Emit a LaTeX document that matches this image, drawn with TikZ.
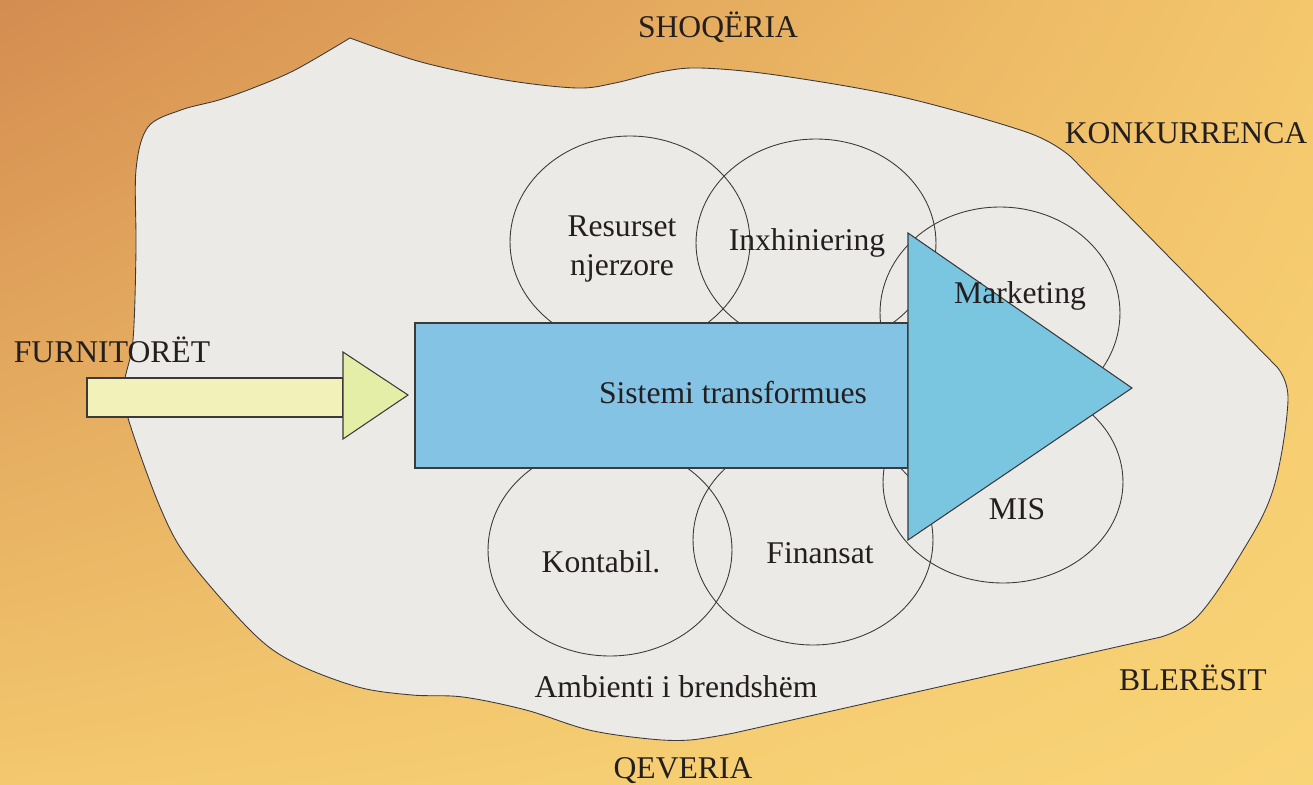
\documentclass[tikz,border=0pt]{standalone}
\usepackage{fontspec}
\setmainfont{Liberation Serif}
\usetikzlibrary{shadings}
\definecolor{bgA}{HTML}{D48C50}
\definecolor{bgB}{HTML}{F4C76C}
\definecolor{bgC}{HTML}{F3C86E}
\definecolor{bgD}{HTML}{F9D477}
\definecolor{blobfill}{HTML}{ECEAE7}
\definecolor{lineC}{HTML}{3A3A3A}
\definecolor{rectblue}{HTML}{84C3E3}
\definecolor{triblue}{HTML}{7AC5E0}
\definecolor{ylrect}{HTML}{F2F1B9}
\definecolor{yltri}{HTML}{E4EEA7}
\definecolor{txt}{HTML}{231F20}
\tikzset{
  blob/.style={fill=blobfill, draw=lineC, line width=0.5pt},
  ring/.style={draw=lineC, line width=0.5pt},
  shape edge/.style={draw=lineC, line width=0.6pt, line join=miter},
  lbl/.style={text=txt, font=\fontsize{18}{21}\selectfont, inner sep=0pt, align=center}
}
\begin{document}
\begin{tikzpicture}[x=0.02cm, y=-0.02cm]
\useasboundingbox (0,0) rectangle (1313,785);
% background
\shade[upper left=bgA, upper right=bgB, lower left=bgC, lower right=bgD] (0,0) rectangle (1313,785);
% internal environment blob
\path[blob] plot[smooth, tension=0.55] coordinates {(350,38) (421,62) (505,80) (577,88) (615,83) (660,72) (700,68) (776,75) (902,97) (1029,133) (1071,157)}
  -- (1277,367)
  -- plot[smooth, tension=0.6] coordinates {(1277,367) (1288,400) (1273,490) (1239,557) (1197,617) (1161,637)}
  -- (734,733)
  -- plot[smooth, tension=0.55] coordinates {(734,733) (690,740) (650,739) (589,730) (526,710) (463,697) (412,695) (358,687) (295,663) (253,633) (189,560) (160,507) (128,418) (124,385) (133,340) (136,250) (136,170) (148,127) (181,110) (219,100) (253,88) (295,70) (350,38)}
  -- cycle;
% function circles
\draw[ring] (630,242) ellipse [x radius=2.4cm, y radius=2.12cm];
\draw[ring] (816,243) ellipse [x radius=2.4cm, y radius=2.08cm];
\draw[ring] (1000,313) ellipse [x radius=2.4cm, y radius=2.12cm];
\draw[ring] (1003,482) ellipse [x radius=2.4cm, y radius=2.02cm];
\draw[ring] (813,540) ellipse [x radius=2.4cm, y radius=2.1cm];
\draw[ring] (610,550) ellipse [x radius=2.44cm, y radius=2.12cm];
% transformation arrow
\path[shape edge, fill=rectblue] (415,323) rectangle (908,468);
\path[shape edge, fill=triblue] (908,233) -- (1132,388) -- (908,540) -- cycle;
% supplier arrow
\path[shape edge, fill=ylrect] (87,378) rectangle (343,417);
\path[shape edge, fill=yltri] (343,352) -- (408,395) -- (343,439) -- cycle;
% labels
\node[lbl] (shoq) at (718,27) {SHOQËRIA};
\node[lbl] (konk) at (1186,133) {KONKURRENCA};
\node[lbl] (furn) at (112,350) {FURNITORËT};
\node[lbl] (bler) at (1193,678) {BLERËSIT};
\node[lbl] (qev) at (683,771) {QEVERIA};
\node[lbl] (amb) at (676,687) {Ambienti i brendshëm};
\node[lbl, align=center] (res) at (622,249) {Resurset\\[1pt]njerzore};
\node[lbl] (inx) at (807,243) {Inxhiniering};
\node[lbl] (mkt) at (1020,296) {Marketing};
\node[lbl] (sis) at (733,393) {Sistemi transformues};
\node[lbl] (mis) at (1017,509) {MIS};
\node[lbl] (fin) at (820,553) {Finansat};
\node[lbl] (kon) at (601,562) {Kontabil.};
\end{tikzpicture}
\end{document}
